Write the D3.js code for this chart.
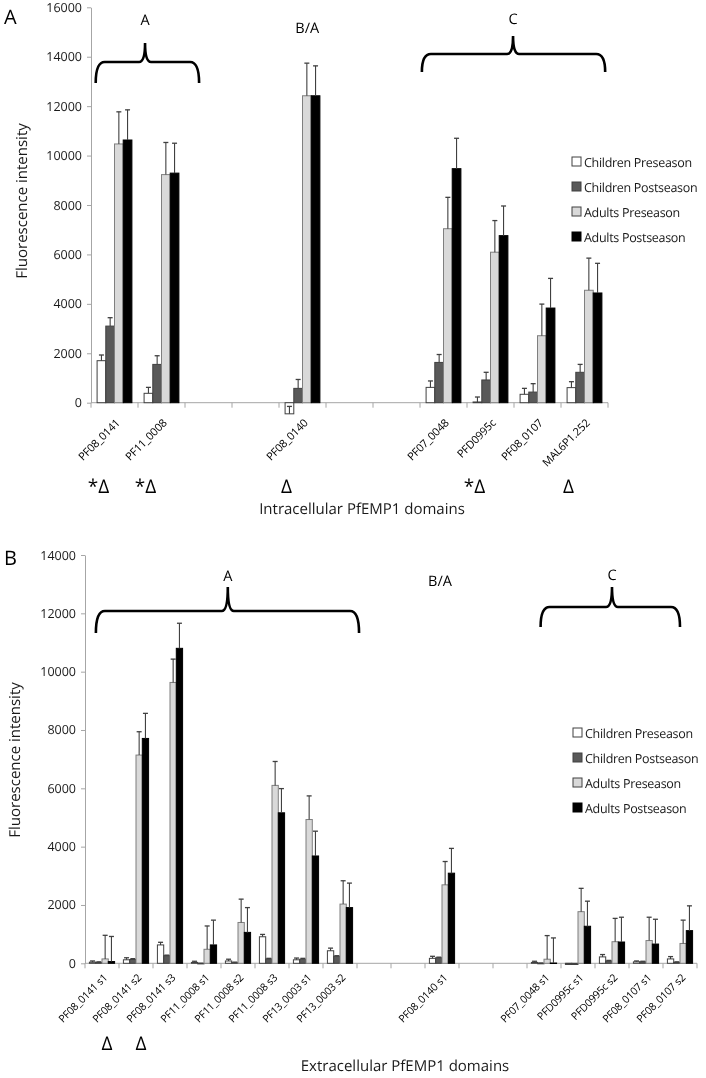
<!DOCTYPE html>
<html><head><meta charset="utf-8">
<script src="https://cdn.jsdelivr.net/npm/d3@7"></script>
<style>
body{margin:0;background:#fff;}
svg{will-change:transform;}
svg text{font-family:"Open Sans",sans-serif;-webkit-font-smoothing:antialiased;text-rendering:geometricPrecision;}
</style></head>
<body>
<svg id="c" width="706" height="1078"></svg>
<script>
// ---------- DATA ----------
const seriesNames = ["Children Preseason","Children Postseason","Adults Preseason","Adults Postseason"];

// Panel A: intracellular domains
const catsA = ["PF08_0141","PF11_0008","","","PF08_0140","","","PF07_0048","PFD0995c","PF08_0107","MAL6P1.252"];
const childPreA     = [1700, 380, null, null, -450, null, null, 620, 30, 340, 610];
const childPreErrA  = [230, 240, null, null, 300, null, null, 260, 200, 240, 240];
const childPostA    = [3100, 1550, null, null, 580, null, null, 1630, 920, 430, 1230];
const childPostErrA = [340, 350, null, null, 360, null, null, 320, 310, 340, 320];
const adultPreA     = [10470, 9230, null, null, 12420, null, null, 7040, 6090, 2710, 4550];
const adultPreErrA  = [1300, 1300, null, null, 1320, null, null, 1270, 1280, 1280, 1300];
const adultPostA    = [10630, 9290, null, null, 12420, null, null, 9470, 6760, 3830, 4440];
const adultPostErrA = [1220, 1210, null, null, 1210, null, null, 1230, 1200, 1200, 1200];
const ticksA = [0,2000,4000,6000,8000,10000,12000,14000,16000];
const marksA = [[0,"*Δ"],[1,"*Δ"],[4,"Δ"],[8,"*Δ"],[10,"Δ"]];

// Panel B: extracellular domains
const catsB = ["PF08_0141 s1","PF08_0141 s2","PF08_0141 s3","PF11_0008 s1","PF11_0008 s2","PF11_0008 s3","PF13_0003 s1","PF13_0003 s2","","","PF08_0140 s1","","","PF07_0048 s1","PFD0995c s1","PFD0995c s2","PF08_0107 s1","PF08_0107 s2"];
const childPreB     = [40, 120, 630, 30, 80, 910, 120, 430, null, null, 170, null, null, 30, -40, 220, 50, 150];
const childPreErrB  = [40, 70, 90, 40, 60, 80, 60, 90, null, null, 70, null, null, 40, 30, 80, 30, 80];
const childPostB    = [30, 130, 260, -20, 20, 150, 140, 240, null, null, 190, null, null, -10, -40, 80, 50, 30];
const childPostErrB = [20, 30, 20, 20, 20, 20, 30, 20, null, null, 20, null, null, 20, 20, 20, 20, 20];
const adultPreB     = [150, 7140, 9630, 480, 1400, 6100, 4930, 2030, null, null, 2690, null, null, 140, 1770, 740, 780, 680];
const adultPreErrB  = [810, 800, 800, 800, 800, 820, 810, 800, null, null, 800, null, null, 810, 800, 800, 800, 800];
const adultPostB    = [60, 7710, 10800, 630, 1060, 5160, 3680, 1910, null, null, 3090, null, null, 10, 1270, 730, 660, 1120];
const adultPostErrB = [860, 860, 860, 850, 850, 830, 850, 840, null, null, 850, null, null, 860, 860, 850, 850, 850];
const ticksB = [0,2000,4000,6000,8000,10000,12000,14000];
const marksB = [[0,"Δ"],[1,"Δ"]];

// ---------- STYLE ----------
const fills   = ["#ffffff","#595959","#d9d9d9","#000000"];
const strokes = ["#404040","#404040","#7f7f7f","#000000"];

const svg = d3.select("#c");

function brace(g, x1, x2, xm, yTop, yBot, yPeak){
  const r = 9, r2 = 6;
  const p = `M${x1},${yBot} Q${x1},${yTop} ${x1+r},${yTop} L${xm-r2},${yTop} Q${xm},${yTop} ${xm},${yPeak} Q${xm},${yTop} ${xm+r2},${yTop} L${x2-r},${yTop} Q${x2},${yTop} ${x2},${yBot}`;
  g.append("path").attr("d",p).attr("fill","none").attr("stroke","#000").attr("stroke-width",2.6);
}

function panel(cfg){
  const g = svg.append("g");
  const n = cfg.cats.length;
  const x = d3.scaleBand().domain(d3.range(n)).range([cfg.x0,cfg.x1]).padding(0);
  const xs = d3.scaleBand().domain(d3.range(4)).range([0,x.bandwidth()]).paddingInner(0).paddingOuter(0.7);
  const xi = d3.scaleLinear().domain([0,n]).range([cfg.x0,cfg.x1]);
  const y = d3.scaleLinear().domain([0,cfg.ticks[cfg.ticks.length-1]]).range([cfg.yZero,cfg.yTop]);

  // y axis
  const ya = g.append("g").attr("transform",`translate(${cfg.x0},0)`)
    .call(d3.axisLeft(y).tickValues(cfg.ticks).tickFormat(d3.format("d")).tickSize(4).tickPadding(5).tickSizeOuter(0));
  ya.select(".domain").attr("stroke","#a6a6a6");
  ya.selectAll(".tick line").attr("stroke","#a6a6a6");
  ya.selectAll(".tick text").attr("font-size",12.5).attr("fill","#1a1a1a").attr("font-family","'Open Sans',sans-serif");

  // x axis line + ticks at boundaries
  g.append("line").attr("x1",cfg.x0).attr("x2",cfg.x1).attr("y1",y(0)).attr("y2",y(0)).attr("stroke","#a6a6a6");
  g.selectAll(".xt").data(d3.range(n+1)).join("line")
    .attr("x1",d=>xi(d)).attr("x2",d=>xi(d)).attr("y1",y(0)).attr("y2",y(0)+5).attr("stroke","#a6a6a6");

  // bars
  cfg.series.forEach((s,si)=>{
    const vals = s.v, errs = s.e;
    d3.range(n).forEach(i=>{
      const v = vals[i];
      if(v===null) return;
      const bx = x(i)+xs(si), bw = xs.bandwidth();
      const y1 = Math.min(y(v),y(0)), y2 = Math.max(y(v),y(0));
      g.append("rect").attr("x",bx).attr("y",y1).attr("width",bw).attr("height",Math.max(0.5,y2-y1))
        .attr("fill",fills[si]).attr("stroke",strokes[si]).attr("stroke-width",1);
      const et = v + errs[i];
      const cx = bx + bw/2;
      g.append("line").attr("x1",cx).attr("x2",cx).attr("y1",y(v)).attr("y2",y(et))
        .attr("stroke","#404040").attr("stroke-width",1.1);
      g.append("line").attr("x1",cx-2.5).attr("x2",cx+2.5).attr("y1",y(et)).attr("y2",y(et))
        .attr("stroke","#404040").attr("stroke-width",1.3);
    });
  });

  // category labels
  g.selectAll(".cl").data(d3.range(n).filter(i=>cfg.cats[i]!=="")).join("text")
    .attr("transform",i=>`translate(${x(i)+x.bandwidth()/2+cfg.labDx},${y(0)+cfg.labDy}) rotate(-45)`)
    .attr("text-anchor","end").attr("font-size",cfg.labFs).attr("fill","#000")
    .attr("letter-spacing",-0.2)
    .text(i=>cfg.cats[i]);

  // significance marks
  g.selectAll(".mk").data(cfg.marks).join("text")
    .attr("x",d=>x(d[0])+x.bandwidth()/2+cfg.markDx).attr("y",cfg.markY)
    .attr("text-anchor","middle").attr("font-size",19).attr("fill","#000")
    .text(d=>d[1]);

  // axis titles
  g.append("text").attr("transform",`translate(${cfg.ytX},${cfg.ytY}) rotate(-90)`)
    .attr("text-anchor","middle").attr("font-size",15).attr("fill","#1a1a1a").text("Fluorescence intensity");
  g.append("text").attr("x",cfg.xtX).attr("y",cfg.xtY).attr("text-anchor","middle")
    .attr("font-size",15).attr("fill","#1a1a1a").text(cfg.xTitle);
  g.append("text").attr("x",4).attr("y",cfg.letterY).attr("font-size",20).attr("fill","#000").text(cfg.letter);

  // braces & group labels
  cfg.braces.forEach(b=>{
    brace(g, xi(b.a), xi(b.b), xi(b.m), b.yTop, b.yBot, b.yPeak);
    g.append("text").attr("x",xi(b.m)).attr("y",b.ly).attr("text-anchor","middle").attr("font-size",14.5).attr("fill","#000").text(b.t);
  });
  cfg.freeLabels.forEach(b=>{
    g.append("text").attr("x",xi(b.m)).attr("y",b.ly).attr("text-anchor","middle").attr("font-size",14.5).attr("fill","#000").text(b.t);
  });

  // legend
  const lg = g.append("g").attr("transform",`translate(${cfg.legX},${cfg.legY})`);
  seriesNames.forEach((nm,i)=>{
    lg.append("rect").attr("x",0).attr("y",i*25-5).attr("width",9).attr("height",9)
      .attr("fill",fills[i]).attr("stroke",i===3?"#000":"#404040").attr("stroke-width",1);
    lg.append("text").attr("x",12).attr("y",i*25+4.5).attr("font-size",12.5).attr("letter-spacing",-0.3)
      .attr("fill","#1a1a1a").text(nm);
  });
}

panel({
  cats:catsA, ticks:ticksA, x0:91, x1:608, yZero:402.7, yTop:7.3,
  series:[{v:childPreA,e:childPreErrA},{v:childPostA,e:childPostErrA},{v:adultPreA,e:adultPreErrA},{v:adultPostA,e:adultPostErrA}],
  labDx:6, labDy:21, labFs:11,
  marks:marksA, markDx:-16, markY:493,
  ytX:27, ytY:201, xtX:362, xtY:514, xTitle:"Intracellular PfEMP1 domains",
  letter:"A", letterY:24,
  braces:[{a:0.1,b:2.3,m:1.15,yTop:62,yBot:83,yPeak:43,ly:25,t:"A"},
          {a:7.04,b:10.94,m:8.98,yTop:54,yBot:72,yPeak:36,ly:24,t:"C"}],
  freeLabels:[{m:4.6,ly:33,t:"B/A"}],
  legX:572, legY:162
});

panel({
  cats:catsB, ticks:ticksB, x0:85, x1:697, yZero:963.3, yTop:555,
  series:[{v:childPreB,e:childPreErrB},{v:childPostB,e:childPostErrB},{v:adultPreB,e:adultPreErrB},{v:adultPostB,e:adultPostErrB}],
  labDx:6, labDy:15, labFs:10.5,
  marks:marksB, markDx:5, markY:1050,
  ytX:20, ytY:760, xtX:405, xtY:1071, xTitle:"Extracellular PfEMP1 domains",
  letter:"B", letterY:565,
  braces:[{a:0.32,b:8.06,m:4.2,yTop:611,yBot:633,yPeak:587,ly:581,t:"A"},
          {a:13.4,b:17.5,m:15.5,yTop:607,yBot:627,yPeak:587,ly:580,t:"C"}],
  freeLabels:[{m:10.44,ly:586,t:"B/A"}],
  legX:573, legY:733
});
</script>
</body></html>
